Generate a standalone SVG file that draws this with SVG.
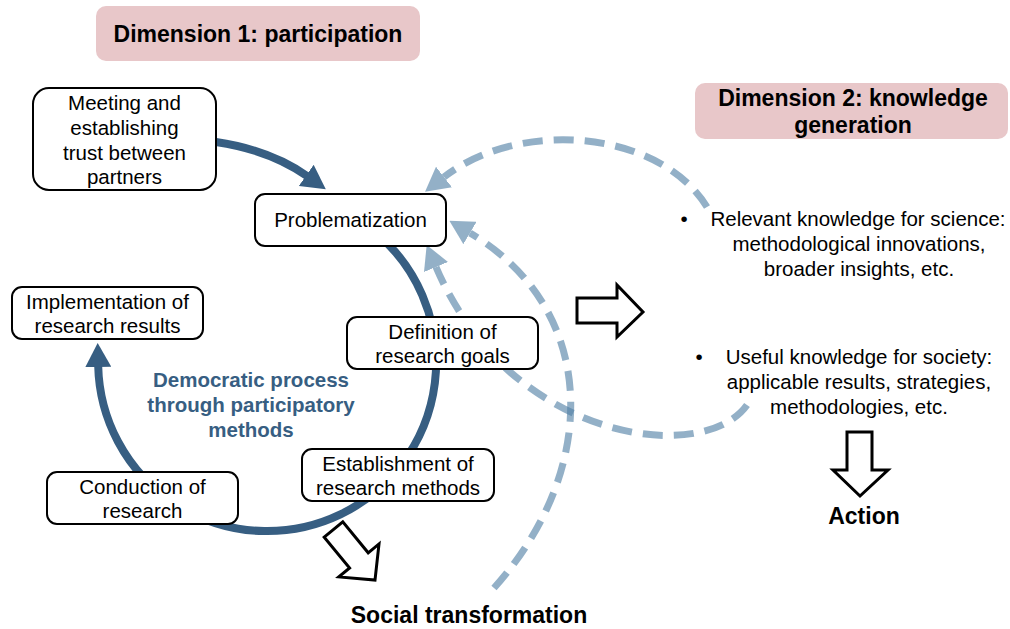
<svg xmlns="http://www.w3.org/2000/svg" width="1010" height="629" viewBox="0 0 1010 629">
<style>
text{font-family:"Liberation Sans",Arial,sans-serif;fill:#000}
.t{font-size:20.5px;text-anchor:middle}
.b{font-size:23px;font-weight:bold;text-anchor:middle}
.dem{font-size:20.5px;font-weight:bold;text-anchor:middle;fill:#375e82}
.box{fill:#fff;stroke:#000;stroke-width:2}
.head{fill:#e8c7c9;stroke:none}
.solid{fill:none;stroke:#375e82;stroke-width:8}
.dash{fill:none;stroke:#5080a5;stroke-opacity:0.62;stroke-width:7;stroke-dasharray:20 11}
.hollow{fill:#fff;stroke:#000;stroke-width:3;stroke-linejoin:miter}
</style>
<defs>
<marker id="ahS" viewBox="0 0 24 26" refX="1" refY="13" markerWidth="24" markerHeight="26" markerUnits="userSpaceOnUse" orient="auto"><path d="M0,0L24,13L0,26z" fill="#375e82"/></marker>
<marker id="ahD" viewBox="0 0 24 26" refX="0" refY="13" markerWidth="24" markerHeight="26" markerUnits="userSpaceOnUse" orient="auto"><path d="M0,0L24,13L0,26z" fill="#5080a5" fill-opacity="0.62"/></marker>
</defs>
<rect width="1010" height="629" fill="#fff"/>
<g id="connectors">
<path class="solid" d="M375.6,232.5 A169,169 0 1 1 98.2,366" marker-end="url(#ahS)"/>
<path class="solid" d="M216,142 Q270,150 307,176" marker-end="url(#ahS)"/>
<path class="dash" d="M707,207 C660,130 520,118 444,177" marker-end="url(#ahD)"/>
<path class="dash" d="M747,405 C715,450 600,450 510,372 C480,346 452,305 436,267" marker-end="url(#ahD)"/>
<path class="dash" d="M494,588 C600,470 600,310 470,233" marker-end="url(#ahD)"/>
</g>
<g id="flow-arrows">
<polygon class="hollow" points="577,298 617,298 617,285 643,312 617,337 617,323 577,323"/>
<polygon class="hollow" points="847,432 872,432 872,470 888,470 860,496 833,470 847,470"/>
<polygon class="hollow" points="324.2,537.1 342.8,521.9 368.2,552.8 379,543.9 375,580.1 338.8,576.9 349.6,568"/>
</g>
<g id="dimension1">
<rect class="head" x="96" y="6" width="324" height="55" rx="10"/>
<text class="b" x="258" y="42">Dimension 1: participation</text>
</g>
<g id="dimension2">
<rect class="head" x="695" y="83" width="313" height="56" rx="10"/>
<text class="b" x="853" y="106">Dimension 2: knowledge</text>
<text class="b" x="853" y="133">generation</text>
</g>
<g id="meeting">
<rect class="box" x="33" y="88" width="183" height="102" rx="16"/>
<text class="t" x="124.5" y="110">Meeting and</text>
<text class="t" x="124.5" y="135">establishing</text>
<text class="t" x="124.5" y="160">trust between</text>
<text class="t" x="124.5" y="184">partners</text>
</g>
<g id="problematization">
<rect class="box" x="255" y="194" width="191" height="52" rx="10"/>
<text class="t" x="350.5" y="227">Problematization</text>
</g>
<g id="implementation">
<rect class="box" x="12" y="287" width="191" height="52" rx="10"/>
<text class="t" x="107.5" y="309">Implementation of</text>
<text class="t" x="107.5" y="333">research results</text>
</g>
<g id="definition">
<rect class="box" x="347" y="317" width="191" height="52" rx="10"/>
<text class="t" x="442.5" y="339">Definition of</text>
<text class="t" x="442.5" y="363">research goals</text>
</g>
<g id="establishment">
<rect class="box" x="302" y="449" width="192" height="52" rx="10"/>
<text class="t" x="398" y="471">Establishment of</text>
<text class="t" x="398" y="495">research methods</text>
</g>
<g id="conduction">
<rect class="box" x="47" y="472" width="191" height="52" rx="10"/>
<text class="t" x="142.5" y="494">Conduction of</text>
<text class="t" x="142.5" y="518">research</text>
</g>
<g id="democratic">
<text class="dem" x="251" y="387">Democratic process</text>
<text class="dem" x="251" y="412">through participatory</text>
<text class="dem" x="251" y="437">methods</text>
</g>
<g id="science-knowledge">
<text class="t" x="684" y="226">•</text>
<text class="t" x="858" y="226">Relevant knowledge for science:</text>
<text class="t" x="859" y="251">methodological innovations,</text>
<text class="t" x="859" y="276">broader insights, etc.</text>
</g>
<g id="society-knowledge">
<text class="t" x="699" y="364">•</text>
<text class="t" x="859" y="364">Useful knowledge for society:</text>
<text class="t" x="859" y="389">applicable results, strategies,</text>
<text class="t" x="859" y="414">methodologies, etc.</text>
</g>
<g id="social-transformation">
<text class="b" x="469" y="623">Social transformation</text>
</g>
<g id="action">
<text class="b" x="864" y="524">Action</text>
</g>
</svg>
